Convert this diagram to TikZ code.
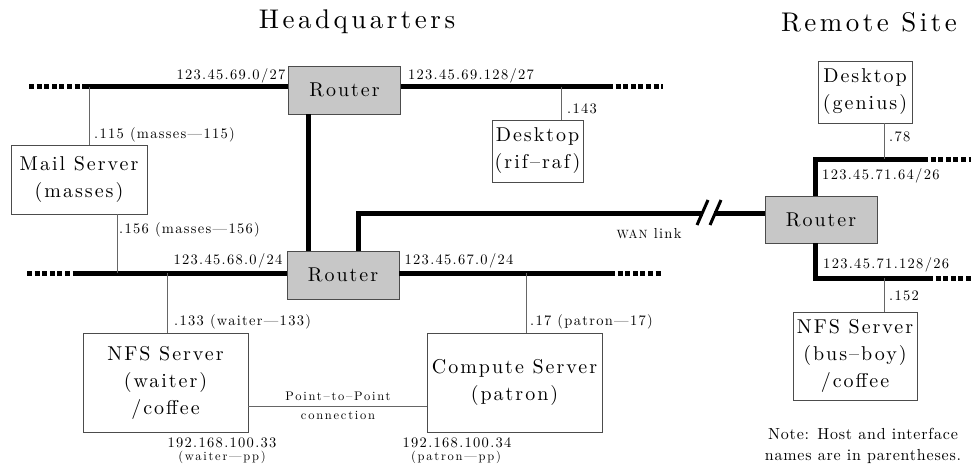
\documentclass[tikz,border=0pt]{standalone}
\usepackage{fontspec}
\setmainfont{lmroman10-regular}[Extension=.otf]
\usetikzlibrary{calc}

% letter-spaced Latin Modern in a few sizes
\newcommand\titlefont{\fontsize{27}{32}\selectfont\addfontfeatures{LetterSpace=13}}
\newcommand\boxfont{\fontsize{20}{27}\selectfont\addfontfeatures{LetterSpace=10}}
\newcommand\addrfont{\fontsize{14.5}{16}\selectfont\addfontfeatures{LetterSpace=9}}
\newcommand\smallfont{\fontsize{12.5}{14}\selectfont\addfontfeatures{LetterSpace=14}}
\newcommand\notefont{\fontsize{16}{21}\selectfont\addfontfeatures{LetterSpace=5}}

\tikzset{
  hostbox/.style={draw=black!70, line width=0.8pt, fill=white, align=center,
                  inner sep=0pt, font=\boxfont},
  routerbox/.style={hostbox, fill=black!22, minimum width=112pt, minimum height=48pt},
  bus/.style={line width=5pt},
  busend/.style={line width=5pt, dash pattern=on 5pt off 2.6pt},
  tap/.style={draw=black!60, line width=0.8pt},
  addr/.style={font=\addrfont, inner sep=0pt},
  small/.style={font=\smallfont, inner sep=0pt},
  heading/.style={font=\titlefont, inner sep=0pt}
}

\begin{document}
\begin{tikzpicture}[x=1pt, y=-1pt]
\useasboundingbox (0,0) rectangle (971,468);

% headings
\node[heading] (hq) at (357,22) {Headquarters};
\node[heading] (rs) at (869,22) {Remote Site};

% routers
\node[routerbox] (rtop) at (344.5,90) {Router};
\node[routerbox] (rlow) at (343,275) {Router};
\node[routerbox, minimum height=47pt] (rrem) at (821,219.5) {Router};

% hosts
\node[hostbox, minimum width=136pt, minimum height=69pt] (mail) at (79,179.5)
  {Mail Server\\(masses)};
\node[hostbox, minimum width=91pt, minimum height=62pt] (rifraf) at (537.5,151)
  {Desktop\\(rif--raf)};
\node[hostbox, minimum width=94pt, minimum height=62pt] (genius) at (865,92)
  {Desktop\\(genius)};
\node[hostbox, minimum width=165pt, minimum height=99pt] (nfsw) at (165.5,382.5)
  {NFS Server\\(waiter)\\/coffee};
\node[hostbox, minimum width=175pt, minimum height=99pt] (compute) at (514.5,382.5)
  {Compute Server\\(patron)};
\node[hostbox, minimum width=124pt, minimum height=88pt] (nfsr) at (855,356)
  {NFS Server\\(bus--boy)\\/coffee};

% bus end points and corners
\coordinate (b69l) at (82,87);   \coordinate (b69le) at (29,87);
\coordinate (b69r) at (608,87);  \coordinate (b69re) at (663,87);
\coordinate (b68l) at (77,273);  \coordinate (b68le) at (27,273);
\coordinate (b67r) at (610,273); \coordinate (b67re) at (662,273);
\coordinate (wanc) at (358,213);
\coordinate (b71a) at (815,159); \coordinate (b71ar) at (923,159); \coordinate (b71are) at (971,159);
\coordinate (b71b) at (815,278); \coordinate (b71br) at (928,278); \coordinate (b71bre) at (971,278);

% thick network segments
\draw[bus] (b69l) -- (rtop.west |- b69l);
\draw[busend] (b69le) -- (b69l);
\draw[bus] (rtop.east |- b69r) -- (b69r);
\draw[busend] (b69r) -- (b69re);
\draw[bus] (b68l) -- (rlow.west |- b68l);
\draw[busend] (b68le) -- (b68l);
\draw[bus] (rlow.east |- b67r) -- (b67r);
\draw[busend] (b67r) -- (b67re);
\draw[bus] (308,0 |- rtop.south) -- (308,0 |- rlow.north);
\draw[bus, line join=miter] (358,0 |- rlow.north) -- (wanc) -- (703,213);
\draw[bus] (714,213) -- (rrem.west |- wanc);
\draw[line width=3pt] (697,225) -- (708,200);
\draw[line width=3pt] (710,225) -- (721,200);
\draw[bus, line join=miter] (b71a |- rrem.north) -- (b71a) -- (b71ar);
\draw[busend] (b71ar) -- (b71are);
\draw[bus, line join=miter] (b71b |- rrem.south) -- (b71b) -- (b71br);
\draw[busend] (b71br) -- (b71bre);

% host taps
\draw[tap] (89,87) -- (89,0 |- mail.north);
\draw[tap] (117,0 |- mail.south) -- (117,273);
\draw[tap] (561,87) -- (561,0 |- rifraf.north);
\draw[tap] (167,273) -- (167,0 |- nfsw.north);
\draw[tap] (526,273) -- (526,0 |- compute.north);
\draw[tap] (884,0 |- genius.south) -- (884,159);
\draw[tap] (884,278) -- (884,0 |- nfsr.north);
\draw[tap] (nfsw.east |- 0,406) -- (compute.west |- 0,406);

% network and interface labels
\node[addr] (n69a) at (231,76) {123.45.69.0/27};
\node[addr] (n69b) at (471,76) {123.45.69.128/27};
\node[addr, anchor=west] (i115) at (94,135) {.115 (masses---115)};
\node[addr, anchor=west] (i156) at (119,230) {.156 (masses---156)};
\node[addr, anchor=west] (i143) at (567,109) {.143};
\node[addr] (n68) at (228,261) {123.45.68.0/24};
\node[addr] (n67) at (459,261) {123.45.67.0/24};
\node[addr, anchor=west] (i133) at (174,322) {.133 (waiter---133)};
\node[addr, anchor=west] (i17) at (530,322) {.17 (patron---17)};
\node[small] (p2p) at (338,396) {Point--to--Point};
\node[small] (conn) at (338,415) {connection};
\node[addr] (pp33) at (222,443) {192.168.100.33};
\node[small] (pp33n) at (222,457) {(waiter---pp)};
\node[addr] (pp34) at (457,443) {192.168.100.34};
\node[small] (pp34n) at (456,457) {(patron---pp)};
\node[addr] (wan) at (649,234) {{\fontsize{12}{13}\selectfont WAN} link};
\node[addr, anchor=west] (n71a) at (822,176) {123.45.71.64/26};
\node[addr, anchor=west] (i78) at (889,137) {.78};
\node[addr, anchor=west] (n71b) at (823,265) {123.45.71.128/26};
\node[addr, anchor=west] (i152) at (889,296) {.152};
\node[font=\notefont, align=center, inner sep=0pt] (note) at (863,446)
  {Note: Host and interface\\names are in parentheses.};
\end{tikzpicture}
\end{document}
